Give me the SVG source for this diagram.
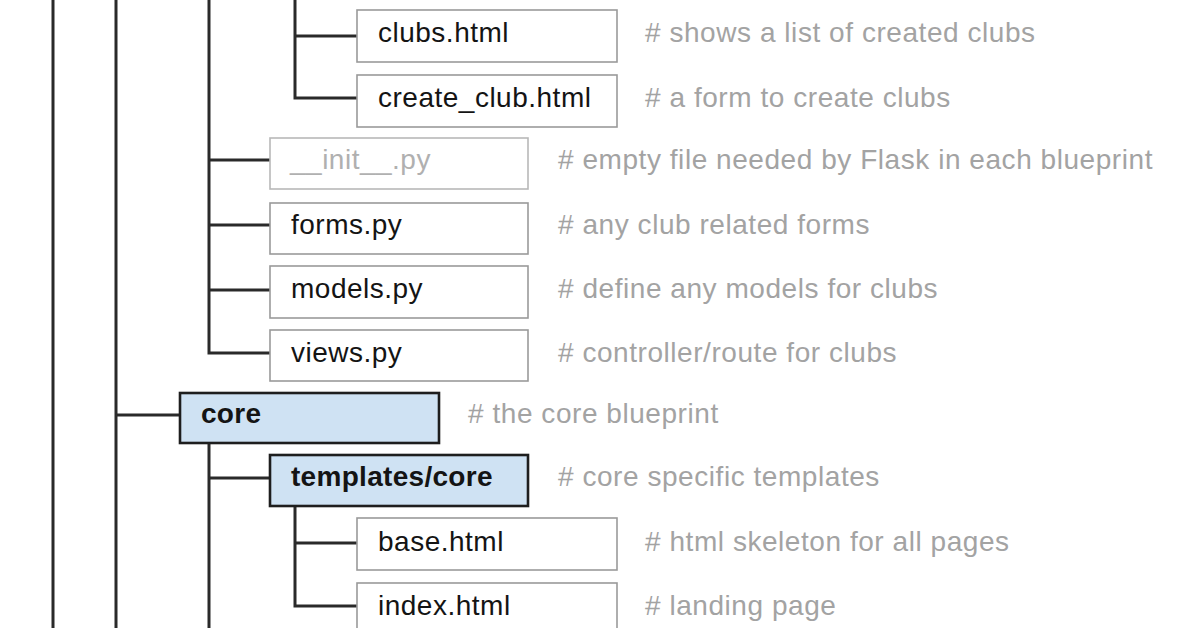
<svg xmlns="http://www.w3.org/2000/svg" width="1196" height="628" viewBox="0 0 1196 628">
<style>
.bg{fill:#fff}
.file{fill:#fff;stroke:#9a9a9a;stroke-width:1.6}
.file.dim{stroke:#b8b8b8}
.dir{fill:#cfe2f3;stroke:#1e1e1e;stroke-width:2.6}
.lbl{font-family:"Liberation Sans",Arial,sans-serif;font-size:28px;letter-spacing:0.5px;fill:#141414}
.lbl.dim{fill:#b0b0b0}
.lbl.b{font-weight:bold;letter-spacing:0.3px}
.cmt{font-family:"Liberation Sans",Arial,sans-serif;font-size:28px;letter-spacing:0.55px;fill:#a3a3a3}
.con{fill:none;stroke:#2a2a2a;stroke-width:3}
</style>
<rect class="bg" x="0" y="0" width="1196" height="628"/>
<g id="connectors">
<path class="con" d="M53 0V628"/>
<path class="con" d="M116 0V628"/>
<path class="con" d="M209 0V353H270"/>
<path class="con" d="M209 160H270M209 225H270M209 290H270"/>
<path class="con" d="M295 0V98H357M295 36H357"/>
<path class="con" d="M116 415H180"/>
<path class="con" d="M209 443V628M209 478H270"/>
<path class="con" d="M295 506V606H357M295 543H357"/>
</g>
<g id="clubs_html"><rect class="file" x="357" y="10" width="260" height="52"/><text class="lbl" x="378" y="42">clubs.html</text><text class="cmt" x="645" y="42"># shows a list of created clubs</text></g>
<g id="create_club_html"><rect class="file" x="357" y="75" width="260" height="52"/><text class="lbl" x="378" y="107">create_club.html</text><text class="cmt" x="645" y="107"># a form to create clubs</text></g>
<g id="init_py"><rect class="file dim" x="270" y="138" width="258" height="51"/><text class="lbl dim" x="290" y="169">__init__.py</text><text class="cmt" x="558" y="169"># empty file needed by Flask in each blueprint</text></g>
<g id="forms_py"><rect class="file" x="270" y="203" width="258" height="51"/><text class="lbl" x="291" y="234">forms.py</text><text class="cmt" x="558" y="234"># any club related forms</text></g>
<g id="models_py"><rect class="file" x="270" y="266" width="258" height="52"/><text class="lbl" x="291" y="298">models.py</text><text class="cmt" x="558" y="298"># define any models for clubs</text></g>
<g id="views_py"><rect class="file" x="270" y="330" width="258" height="51"/><text class="lbl" x="291" y="362">views.py</text><text class="cmt" x="558" y="362"># controller/route for clubs</text></g>
<g id="core"><rect class="dir" x="180" y="393" width="259" height="50"/><text class="lbl b" x="201" y="423">core</text><text class="cmt" x="468" y="423"># the core blueprint</text></g>
<g id="templates_core"><rect class="dir" x="270" y="455" width="258" height="51"/><text class="lbl b" x="291" y="486">templates/core</text><text class="cmt" x="558" y="486"># core specific templates</text></g>
<g id="base_html"><rect class="file" x="357" y="518" width="260" height="52"/><text class="lbl" x="378" y="551">base.html</text><text class="cmt" x="645" y="551"># html skeleton for all pages</text></g>
<g id="index_html"><rect class="file" x="357" y="583" width="260" height="52"/><text class="lbl" x="378" y="615">index.html</text><text class="cmt" x="645" y="615"># landing page</text></g>
</svg>
